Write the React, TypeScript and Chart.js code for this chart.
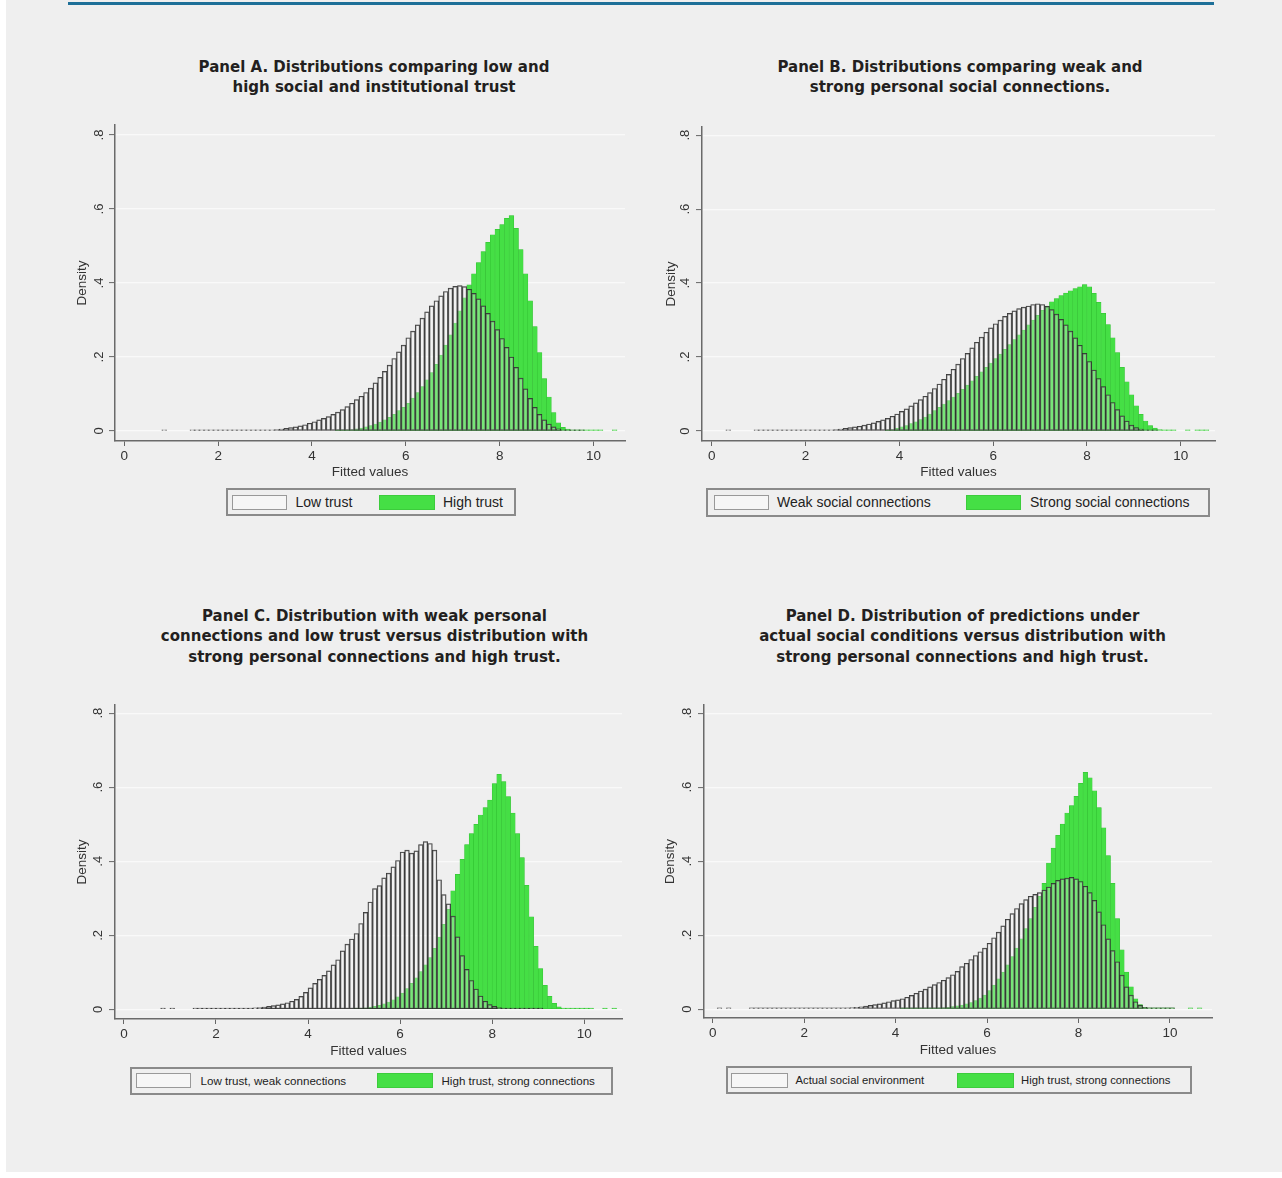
import React, { useEffect, useRef } from "react";
import { Chart, registerables } from "chart.js";

Chart.register(...registerables);

// ---------------- data ----------------
const BIN_WIDTH = 0.1;
const X_TICKS = [0, 2, 4, 6, 8, 10];
const Y_TICKS = [0, 0.2, 0.4, 0.6, 0.8];
const Y_TICK_LABELS = ["0", ".2", ".4", ".6", ".8"];

// Panel A
const A_LOW_START = 0.85;
const A_LOW = [
  0.001, null, null, null, null, null,
  0.001, 0.001, 0.001, 0.001, 0.001, 0.001, 0.001, 0.001, 0.001, 0.001, 0.001,
  0.002, 0.002, 0.002, 0.002, 0.002,
  0.002, 0.003, 0.004, 0.005, 0.007, 0.009, 0.011, 0.014, 0.017, 0.021,
  0.025, 0.030, 0.034, 0.039, 0.045, 0.051, 0.058, 0.066, 0.075, 0.085,
  0.094, 0.104, 0.116, 0.130, 0.145, 0.161, 0.178, 0.196, 0.214, 0.232,
  0.252, 0.270, 0.287, 0.305, 0.322, 0.338, 0.352, 0.365, 0.377, 0.386,
  0.391, 0.393, 0.390, 0.383, 0.372, 0.357, 0.338, 0.318, 0.297, 0.274,
  0.250, 0.226, 0.200, 0.172, 0.143, 0.114, 0.088, 0.064, 0.045, 0.030,
  0.019, 0.011, 0.006, 0.003, 0.002, 0.001, 0.001, 0.001,
];
const A_HIGH_START = 4.55;
const A_HIGH = [
  0.001, 0.002, 0.003, 0.004, 0.006,
  0.008, 0.011, 0.015, 0.019, 0.024, 0.030, 0.037, 0.045, 0.055, 0.064,
  0.075, 0.089, 0.104, 0.120, 0.138, 0.158, 0.180, 0.205, 0.232, 0.260,
  0.292, 0.325, 0.360, 0.395, 0.425, 0.455, 0.485, 0.510, 0.530, 0.545,
  0.558, 0.575, 0.582, 0.548, 0.490, 0.425, 0.352, 0.282, 0.212, 0.142,
  0.092, 0.050, 0.022, 0.010, 0.005, 0.003, 0.002, 0.001, 0.001, 0.001,
  0.001, 0.001, null, null, 0.001,
];

// Panel B
const B_LOW_START = 0.35;
const B_LOW = [
  0.001, null, null, null, null, null, 0.001, 0.001,
  0.001, 0.001, 0.001, 0.001, 0.001, 0.001, 0.001, 0.001, 0.001, 0.001, 0.001, 0.001, 0.001,
  0.002, 0.003, 0.004, 0.005, 0.007, 0.009,
  0.011, 0.013, 0.016, 0.019, 0.022, 0.026, 0.030, 0.034, 0.040, 0.046,
  0.053, 0.060, 0.068, 0.076, 0.085, 0.094, 0.104, 0.115, 0.127, 0.140,
  0.153, 0.167, 0.181, 0.196, 0.210, 0.225, 0.240, 0.254, 0.267, 0.279,
  0.290, 0.300, 0.310, 0.318, 0.325, 0.331, 0.335, 0.338, 0.342, 0.344,
  0.342, 0.337, 0.328, 0.316, 0.302, 0.287, 0.270, 0.252, 0.232, 0.210,
  0.188, 0.165, 0.142, 0.120, 0.098, 0.077, 0.058, 0.041, 0.027, 0.016,
  0.009, 0.005, 0.003, 0.002, 0.001,
];
const B_HIGH_START = 3.75;
const B_HIGH = [
  0.002, 0.004, 0.007,
  0.011, 0.015, 0.020, 0.025, 0.031, 0.038, 0.046, 0.055, 0.064, 0.073,
  0.082, 0.092, 0.102, 0.113, 0.124, 0.136, 0.148, 0.160, 0.172, 0.184,
  0.196, 0.208, 0.221, 0.234, 0.247, 0.260, 0.273, 0.287, 0.300, 0.313,
  0.326, 0.338, 0.349, 0.358, 0.366, 0.373, 0.379, 0.385, 0.390, 0.396,
  0.390, 0.372, 0.348, 0.318, 0.288, 0.252, 0.212, 0.172, 0.133, 0.098,
  0.068, 0.045, 0.027, 0.015, 0.008, 0.004, 0.002, 0.001, 0.001, null,
  null, 0.001, null, 0.001, 0.001, 0.001,
];

// Panel C
const C_LOW_START = 0.85;
const C_LOW = [
  0.001, null, 0.001, null, null, null, null,
  0.001, 0.001, 0.001, 0.001, 0.001, 0.001, 0.001, 0.001, 0.001, 0.001,
  0.002, 0.002, 0.003, 0.004, 0.005,
  0.006, 0.008, 0.010, 0.012, 0.015, 0.018, 0.022, 0.027, 0.035, 0.046,
  0.058, 0.070, 0.081, 0.092, 0.104, 0.120, 0.134, 0.158, 0.176, 0.190,
  0.205, 0.232, 0.262, 0.290, 0.326, 0.334, 0.355, 0.368, 0.385, 0.402,
  0.425, 0.430, 0.422, 0.428, 0.445, 0.453, 0.448, 0.430, 0.350, 0.310,
  0.285, 0.252, 0.196, 0.145, 0.108, 0.078, 0.055, 0.036, 0.022, 0.013,
  0.008, 0.005, 0.003, 0.002, 0.001, 0.001, 0.001, 0.001, 0.001, 0.001, 0.001,
];
const C_HIGH_START = 5.05;
const C_HIGH = [
  0.002, 0.003, 0.004, 0.006, 0.008, 0.011, 0.015, 0.020, 0.026, 0.034,
  0.044, 0.056, 0.070, 0.085, 0.102, 0.120, 0.140, 0.165, 0.195, 0.230,
  0.270, 0.320, 0.365, 0.405, 0.445, 0.475, 0.500, 0.525, 0.545, 0.565,
  0.610, 0.635, 0.615, 0.575, 0.530, 0.475, 0.410, 0.335, 0.250, 0.170,
  0.110, 0.065, 0.035, 0.016, 0.007, 0.003, 0.002, 0.001, 0.001, 0.001,
  0.001, 0.001, null, null, 0.001, null, 0.001,
];

// Panel D
const D_LOW_START = 0.15;
const D_LOW = [
  0.001, null, 0.001, null, null, null, null,
  0.001, 0.001, 0.001, 0.001, 0.001, 0.001, 0.001, 0.001, 0.001,
  0.001, 0.001, 0.001, 0.001, 0.001, 0.001, 0.001, 0.001, 0.001,
  0.002, 0.002, 0.003, 0.003,
  0.004, 0.005, 0.006, 0.008, 0.010, 0.012, 0.014, 0.017, 0.020, 0.023,
  0.025, 0.028, 0.032, 0.037, 0.043, 0.049, 0.054, 0.060, 0.066, 0.072,
  0.078, 0.085, 0.093, 0.102, 0.115, 0.124, 0.134, 0.145, 0.155, 0.165,
  0.178, 0.193, 0.208, 0.225, 0.243, 0.258, 0.272, 0.285, 0.296, 0.305,
  0.310, 0.315, 0.322, 0.330, 0.340, 0.348, 0.352, 0.354, 0.356, 0.352,
  0.345, 0.332, 0.315, 0.294, 0.263, 0.228, 0.190, 0.158, 0.128, 0.092,
  0.060, 0.038, 0.020, 0.010, 0.005, 0.003, 0.002, 0.001, 0.001, 0.001, 0.001,
];
const D_HIGH_START = 4.15;
const D_HIGH = [
  0.001, 0.001, 0.001, 0.002, 0.002, 0.002, 0.003, 0.003, 0.003,
  0.004, 0.005, 0.007, 0.009, 0.011, 0.014, 0.018, 0.023, 0.030, 0.038,
  0.050, 0.065, 0.082, 0.100, 0.120, 0.142, 0.165, 0.190, 0.218, 0.245,
  0.275, 0.305, 0.340, 0.395, 0.435, 0.470, 0.500, 0.530, 0.550, 0.575,
  0.610, 0.640, 0.625, 0.590, 0.545, 0.490, 0.415, 0.340, 0.245, 0.160,
  0.100, 0.060, 0.028, 0.012, 0.005, 0.002, 0.001, 0.001, 0.001, 0.001,
  0.001, null, null, null, 0.001, null, 0.001,
];

// ---------------- styling ----------------
const AXIS_FONT = '"Liberation Sans", Arial, sans-serif';
const GREEN = "#45df45";
const BG = "#efefef";

type Geometry = {
  L: number; T: number; W: number; H: number;
  plotLeft: number; plotRight: number; plotTop: number; plotBottom: number;
  xMin: number; xMax: number; yMin: number; yMax: number;
  yTitleOffset: number; yLabelOffset: number;
};

type LegendSpec = {
  left: number; top: number; width: number; height: number;
  fontSize: number;
  items: { swatchLeft: number; swatchWidth: number; textLeft: number; label: string; green: boolean }[];
};

type PanelSpec = {
  title: string[];
  titleCenter: number;
  titleTop: number;
  low: { start: number; values: (number | null)[]; label: string };
  high: { start: number; values: (number | null)[]; label: string };
  geo: Geometry;
  legend: LegendSpec;
};

function toPoints(start: number, values: (number | null)[]) {
  const pts: { x: number; y: number }[] = [];
  values.forEach((v, i) => {
    if (v === null || v === undefined) return;
    pts.push({ x: Math.round((start + i * BIN_WIDTH) * 100) / 100, y: v });
  });
  return pts;
}

const yTickLabelPlugin = {
  id: "yTickLabels",
  afterDraw(chart: any, _args: any, opts: any) {
    const { ctx, chartArea } = chart;
    const y = chart.scales.y;
    ctx.save();
    ctx.font = `13px ${AXIS_FONT}`;
    ctx.fillStyle = "#333";
    ctx.textAlign = "center";
    ctx.textBaseline = "middle";
    Y_TICKS.forEach((v, i) => {
      const py = y.getPixelForValue(v);
      ctx.save();
      ctx.translate(chartArea.left - (opts.offset ?? 16), py);
      ctx.rotate(-Math.PI / 2);
      ctx.fillText(Y_TICK_LABELS[i], 0, 0);
      ctx.restore();
    });
    ctx.restore();
  },
};

function HistChart({ spec }: { spec: PanelSpec }) {
  const ref = useRef<HTMLCanvasElement | null>(null);
  const g = spec.geo;
  useEffect(() => {
    if (!ref.current) return;
    const common = {
      grouped: false,
      barPercentage: 1,
      categoryPercentage: 1,
      borderSkipped: false,
      minBarLength: 1.2,
    };
    const chart = new Chart(ref.current, {
      type: "bar",
      data: {
        datasets: [
          {
            label: spec.low.label,
            data: toPoints(spec.low.start, spec.low.values),
            backgroundColor: "rgba(250,250,250,0.28)",
            borderColor: "rgba(35,35,35,0.9)",
            borderWidth: 0.75,
            ...common,
          } as any,
          {
            label: spec.high.label,
            data: toPoints(spec.high.start, spec.high.values),
            backgroundColor: GREEN,
            borderColor: "#31bd31",
            borderWidth: 0.5,
            ...common,
          } as any,
        ],
      },
      options: {
        animation: false,
        responsive: false,
        maintainAspectRatio: false,
        layout: {
          padding: {
            left: 0,
            top: g.plotTop - g.T,
            right: g.L + g.W - g.plotRight,
            bottom: 0,
          },
        },
        plugins: {
          legend: { display: false },
          tooltip: { enabled: false },
          yTickLabels: { offset: g.yLabelOffset },
        } as any,
        scales: {
          x: {
            type: "linear",
            offset: false,
            min: g.xMin,
            max: g.xMax,
            afterBuildTicks: (s: any) => {
              s.ticks = X_TICKS.map((v) => ({ value: v }));
            },
            afterFit: (s: any) => {
              s.height = g.T + g.H - g.plotBottom;
            },
            grid: {
              offset: false,
              drawOnChartArea: false,
              drawTicks: true,
              tickLength: 5,
              tickColor: "#666",
              tickWidth: 1,
            },
            border: { display: true, color: "#6a6a6a", width: 1.5 },
            ticks: {
              autoSkip: false,
              maxRotation: 0,
              minRotation: 0,
              padding: 2,
              color: "#333",
              font: { family: AXIS_FONT, size: 13.5 },
              callback: (v: any) => String(v),
            },
            title: {
              display: true,
              text: "Fitted values",
              color: "#333",
              font: { family: AXIS_FONT, size: 13.5 },
              padding: { top: 0, bottom: 0 },
            },
          },
          y: {
            type: "linear",
            offset: false,
            min: g.yMin,
            max: g.yMax,
            afterBuildTicks: (s: any) => {
              s.ticks = Y_TICKS.map((v) => ({ value: v }));
            },
            afterFit: (s: any) => {
              s.width = g.plotLeft - g.L;
            },
            grid: {
              offset: false,
              color: "#f9f9f9",
              lineWidth: 1.2,
              drawTicks: true,
              tickLength: 6,
              tickColor: "#666",
              tickWidth: 1,
            },
            border: { display: true, color: "#6a6a6a", width: 1.5 },
            ticks: { display: false },
            title: {
              display: true,
              text: "Density",
              color: "#333",
              font: { family: AXIS_FONT, size: 13.5 },
              padding: { top: g.yTitleOffset - 8.1, bottom: 0 },
            },
          },
        },
      } as any,
      plugins: [yTickLabelPlugin as any],
    });
    return () => chart.destroy();
  }, [spec]);

  return (
    <canvas
      ref={ref}
      width={g.W}
      height={g.H}
      style={{ position: "absolute", left: g.L, top: g.T, width: g.W, height: g.H }}
    />
  );
}

function Legend({ spec }: { spec: LegendSpec }) {
  const swH = 15;
  return (
    <div
      style={{
        position: "absolute",
        left: spec.left,
        top: spec.top,
        width: spec.width,
        height: spec.height,
        boxSizing: "border-box",
        border: "2px solid #8a8a8a",
        background: BG,
      }}
    >
      {spec.items.map((it, i) => (
        <React.Fragment key={i}>
          <div
            style={{
              position: "absolute",
              left: it.swatchLeft - spec.left - 2,
              top: (spec.height - 4 - swH) / 2,
              width: it.swatchWidth,
              height: swH,
              boxSizing: "border-box",
              background: it.green ? GREEN : "#f6f6f6",
              border: it.green ? "1px solid #3ccc3c" : "1.5px solid #999",
            }}
          />
          <div
            style={{
              position: "absolute",
              left: it.textLeft - spec.left - 2,
              top: 0,
              height: spec.height - 4,
              lineHeight: `${spec.height - 4}px`,
              fontFamily: AXIS_FONT,
              fontSize: spec.fontSize,
              color: "#222",
              whiteSpace: "nowrap",
            }}
          >
            {it.label}
          </div>
        </React.Fragment>
      ))}
    </div>
  );
}

const PANELS: PanelSpec[] = [
  {
    title: ["Panel A. Distributions comparing low and", "high social and institutional trust"],
    titleCenter: 374,
    titleTop: 56.5,
    low: { start: A_LOW_START, values: A_LOW, label: "Low trust" },
    high: { start: A_HIGH_START, values: A_HIGH, label: "High trust" },
    geo: {
      L: 60, T: 110, W: 580, H: 370,
      plotLeft: 115, plotRight: 625, plotTop: 125, plotBottom: 441,
      xMin: -0.198, xMax: 10.67, yMin: -0.027, yMax: 0.827,
      yTitleOffset: 22.5, yLabelOffset: 16,
    },
    legend: {
      left: 226, top: 488, width: 290, height: 28, fontSize: 14,
      items: [
        { swatchLeft: 232, swatchWidth: 55, textLeft: 295.5, label: "Low trust", green: false },
        { swatchLeft: 379, swatchWidth: 56, textLeft: 443, label: "High trust", green: true },
      ],
    },
  },
  {
    title: ["Panel B. Distributions comparing weak and", "strong personal social connections."],
    titleCenter: 960,
    titleTop: 56.5,
    low: { start: B_LOW_START, values: B_LOW, label: "Weak social connections" },
    high: { start: B_HIGH_START, values: B_HIGH, label: "Strong social connections" },
    geo: {
      L: 640, T: 110, W: 590, H: 370,
      plotLeft: 702, plotRight: 1215, plotTop: 127, plotBottom: 441,
      xMin: -0.209, xMax: 10.73, yMin: -0.027, yMax: 0.822,
      yTitleOffset: 31, yLabelOffset: 17,
    },
    legend: {
      left: 706, top: 488, width: 504, height: 29, fontSize: 14,
      items: [
        { swatchLeft: 713.5, swatchWidth: 55, textLeft: 777, label: "Weak social connections", green: false },
        { swatchLeft: 965.5, swatchWidth: 55, textLeft: 1030, label: "Strong social connections", green: true },
      ],
    },
  },
  {
    title: [
      "Panel C. Distribution with weak personal",
      "connections and low trust versus distribution with",
      "strong personal connections and high trust.",
    ],
    titleCenter: 374.5,
    titleTop: 605.7,
    low: { start: C_LOW_START, values: C_LOW, label: "Low trust, weak connections" },
    high: { start: C_HIGH_START, values: C_HIGH, label: "High trust, strong connections" },
    geo: {
      L: 60, T: 690, W: 580, H: 369,
      plotLeft: 115, plotRight: 622, plotTop: 705, plotBottom: 1019,
      xMin: -0.193, xMax: 10.82, yMin: -0.026, yMax: 0.822,
      yTitleOffset: 22.5, yLabelOffset: 17,
    },
    legend: {
      left: 130, top: 1066.5, width: 483, height: 28.5, fontSize: 11.6,
      items: [
        { swatchLeft: 136, swatchWidth: 55, textLeft: 200.5, label: "Low trust, weak connections", green: false },
        { swatchLeft: 377, swatchWidth: 55.5, textLeft: 441.5, label: "High trust, strong connections", green: true },
      ],
    },
  },
  {
    title: [
      "Panel D. Distribution of predictions under",
      "actual social conditions versus distribution with",
      "strong personal connections and high trust.",
    ],
    titleCenter: 962.5,
    titleTop: 605.7,
    low: { start: D_LOW_START, values: D_LOW, label: "Actual social environment" },
    high: { start: D_HIGH_START, values: D_HIGH, label: "High trust, strong connections" },
    geo: {
      L: 640, T: 690, W: 590, H: 368,
      plotLeft: 704, plotRight: 1212, plotTop: 705, plotBottom: 1018,
      xMin: -0.19, xMax: 10.92, yMin: -0.024, yMax: 0.822,
      yTitleOffset: 30.5, yLabelOffset: 17,
    },
    legend: {
      left: 725.5, top: 1066, width: 466, height: 28, fontSize: 11.3,
      items: [
        { swatchLeft: 731, swatchWidth: 56.5, textLeft: 795.5, label: "Actual social environment", green: false },
        { swatchLeft: 957, swatchWidth: 56.5, textLeft: 1021, label: "High trust, strong connections", green: true },
      ],
    },
  },
];

export default function App() {
  return (
    <div
      style={{
        position: "absolute",
        left: 0,
        top: 0,
        width: 1282,
        height: 1178,
        background: "#ffffff",
        overflow: "hidden",
      }}
    >
      <div style={{ position: "absolute", left: 6, top: 0, width: 1276, height: 1172, background: BG }} />
      <div style={{ position: "absolute", left: 68, top: 2, width: 1146, height: 3, background: "#1d6f98" }} />
      {PANELS.map((p, i) => (
        <React.Fragment key={i}>
          <div
            style={{
              position: "absolute",
              left: p.titleCenter - 300,
              top: p.titleTop,
              width: 600,
              textAlign: "center",
              fontFamily: '"DejaVu Sans", "Open Sans", sans-serif',
              fontWeight: 700,
              fontSize: 15,
              lineHeight: "20.6px",
              color: "#231f20",
            }}
          >
            {p.title.map((line, j) => (
              <div key={j}>{line}</div>
            ))}
          </div>
          <HistChart spec={p} />
          <Legend spec={p.legend} />
        </React.Fragment>
      ))}
    </div>
  );
}
